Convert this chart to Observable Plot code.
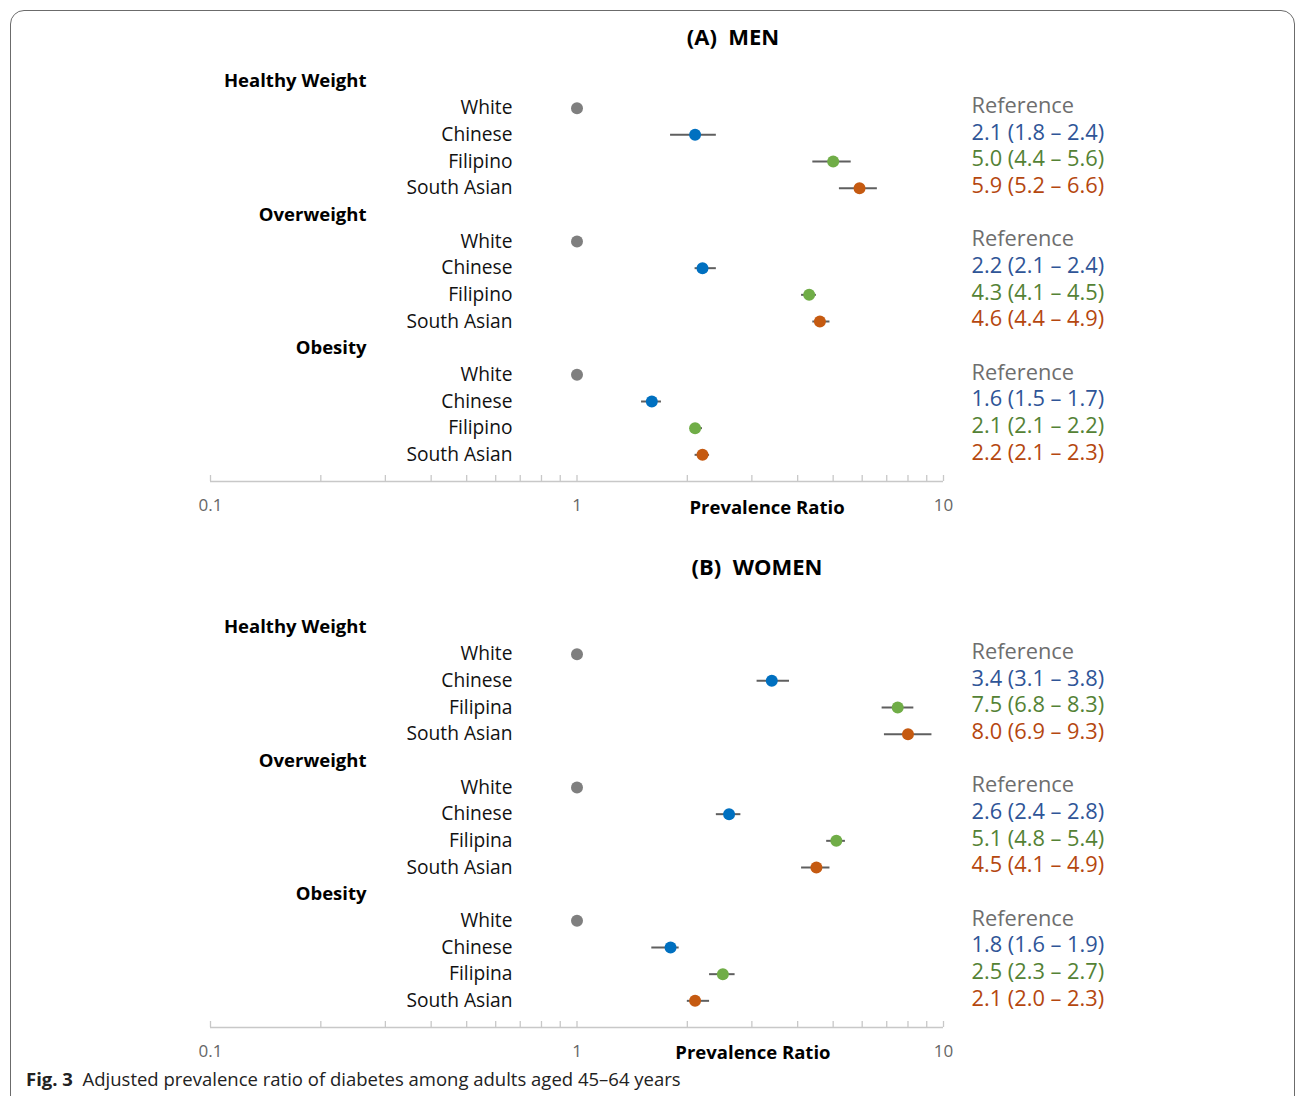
<!DOCTYPE html>
<html>
<head>
<meta charset="utf-8">
<script src="https://cdn.jsdelivr.net/npm/d3@7"></script>
<script src="https://cdn.jsdelivr.net/npm/@observablehq/plot@0.6"></script>
<style>
  html, body { margin: 0; padding: 0; background: #fff; overflow: hidden; }
  body { width: 1295px; height: 1096px; position: relative; font-family: "Open Sans", sans-serif; }
  #frame { position: absolute; left: 10px; top: 10px; width: 1285px; height: 1110px; border: 1px solid #6b6b6b; border-radius: 14px; box-sizing: border-box; }
  .ptitle { position: absolute; width: 400px; text-align: center; font-weight: 700; font-size: 22px; color: #000; line-height: 1; white-space: pre; }
  .panel { position: absolute; left: 0; }
  #caption { position: absolute; left: 26px; top: 1070px; font-size: 18.5px; color: #222; line-height: 1; white-space: pre; }
  #caption b { font-weight: 700; }
</style>
</head>
<body>
<div id="frame"></div>
<div class="ptitle" id="tA" style="top:25px; left:533px">(A)  MEN</div>
<div class="panel" id="pA" style="top:60px"></div>
<div class="ptitle" id="tB" style="top:555px; left:557px">(B)  WOMEN</div>
<div class="panel" id="pB" style="top:606px"></div>
<div id="caption"><b>Fig. 3</b>  Adjusted prevalence ratio of diabetes among adults aged 45–64 years</div>
<script>
// ---- data ----
const groups = ["Healthy Weight", "Overweight", "Obesity"];
const menGroups = ["White", "Chinese", "Filipino", "South Asian"];
const womenGroups = ["White", "Chinese", "Filipina", "South Asian"];

// order: Healthy Weight (W, C, F, SA), Overweight (...), Obesity (...)
const menEstimate = [1, 2.1, 5.0, 5.9, 1, 2.2, 4.3, 4.6, 1, 1.6, 2.1, 2.2];
const menLower    = [null, 1.8, 4.4, 5.2, null, 2.1, 4.1, 4.4, null, 1.5, 2.1, 2.1];
const menUpper    = [null, 2.4, 5.6, 6.6, null, 2.4, 4.5, 4.9, null, 1.7, 2.2, 2.3];

const womenEstimate = [1, 3.4, 7.5, 8.0, 1, 2.6, 5.1, 4.5, 1, 1.8, 2.5, 2.1];
const womenLower    = [null, 3.1, 6.8, 6.9, null, 2.4, 4.8, 4.1, null, 1.6, 2.3, 2.0];
const womenUpper    = [null, 3.8, 8.3, 9.3, null, 2.8, 5.4, 4.9, null, 1.9, 2.7, 2.3];

const majorTicks = [0.1, 1, 10];
const minorTicks = [0.2, 0.3, 0.4, 0.5, 0.6, 0.7, 0.8, 0.9, 2, 3, 4, 5, 6, 7, 8, 9];

// ---- styles ----
const dotColors = ["#7f7f7f", "#0070c0", "#70ad47", "#c55a11"];
const textColors = ["#6e6e6e", "#2f5597", "#548235", "#b5470f"];
const fmt = v => v.toFixed(1);

function buildRows(labels, est, lo, hi) {
  const rows = [];
  let r = 0, k = 0;
  groups.forEach(g => {
    rows.push({row: r++, type: "header", label: g});
    labels.forEach((lab, j) => {
      rows.push({
        row: r++, type: "item", label: lab, eth: j,
        est: est[k], lo: lo[k], hi: hi[k],
        note: lo[k] == null ? "Reference" : `${fmt(est[k])} (${fmt(lo[k])} – ${fmt(hi[k])})`
      });
      k++;
    });
  });
  return rows;
}

function panel(labels, est, lo, hi, axisLabelX, axisLabelDy) {
  const rows = buildRows(labels, est, lo, hi);
  const headers = rows.filter(d => d.type === "header");
  const items = rows.filter(d => d.type === "item");
  const bars = items.filter(d => d.lo != null);
  const base = rows.length; // axis baseline row
  return Plot.plot({
    width: 1295,
    height: 470,
    marginLeft: 210,
    marginRight: 352,
    marginTop: 0,
    marginBottom: 0,
    style: {fontFamily: "'Open Sans', sans-serif", background: "transparent", overflow: "visible"},
    x: {type: "log", domain: [0.1, 10], axis: null},
    y: {domain: [0, base], range: [21, 421], axis: null},
    color: {type: "identity"},
    marks: [
      // axis baseline
      Plot.ruleY([base], {x1: 0.1, x2: 10, stroke: "#c8c8c8", strokeWidth: 1.6}),
      Plot.ruleX(majorTicks.concat(minorTicks), {x: d => d, y1: base, y2: base, insetTop: -6, stroke: "#c8c8c8", strokeWidth: 1.3}),
      Plot.text(majorTicks, {x: d => d, y: () => base, dy: 24, text: d => String(d), fill: "#666", fontSize: 17}),
      Plot.text(["Prevalence Ratio"], {x: () => axisLabelX, y: () => base, dy: axisLabelDy, text: d => d, fill: "#000", fontSize: 18.5, fontWeight: "bold"}),
      // labels
      Plot.text(headers, {y: "row", text: "label", frameAnchor: "left", dx: 156, textAnchor: "end", fontSize: 18.5, fontWeight: "bold", fill: "#000"}),
      Plot.text(items, {y: "row", text: "label", frameAnchor: "left", dx: 302, textAnchor: "end", fontSize: 19.2, fill: "#111"}),
      // confidence intervals
      Plot.ruleY(bars, {y: "row", x1: "lo", x2: "hi", stroke: "#5f5f5f", strokeWidth: 2}),
      Plot.dot(items, {x: "est", y: "row", r: 6, fill: d => dotColors[d.eth], stroke: "none"}),
      // annotations
      Plot.text(items, {y: "row", text: "note", frameAnchor: "right", dx: 28, dy: -2, textAnchor: "start", fontSize: 21.8, fill: d => textColors[d.eth]})
    ]
  });
}

document.getElementById("pA").appendChild(panel(menGroups, menEstimate, menLower, menUpper, 3.3, 27));
document.getElementById("pB").appendChild(panel(womenGroups, womenEstimate, womenLower, womenUpper, 3.02, 26));
</script>
</body>
</html>
